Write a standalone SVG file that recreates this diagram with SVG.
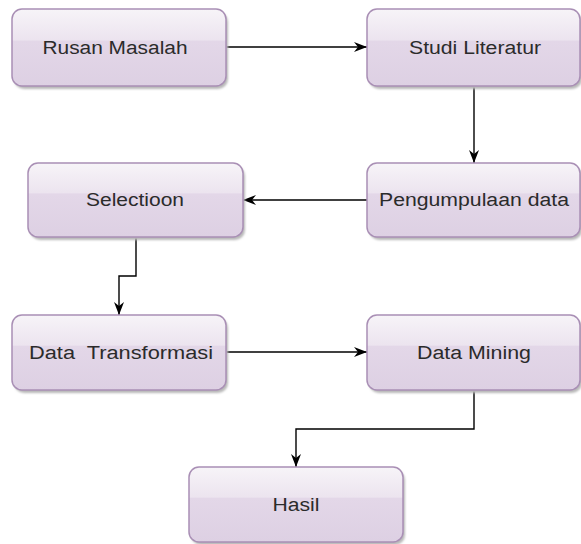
<svg xmlns="http://www.w3.org/2000/svg" width="581" height="544" viewBox="0 0 581 544">
<defs>
<linearGradient id="g" x1="0" y1="0" x2="0" y2="1">
<stop offset="0" stop-color="#f7f4f8"/>
<stop offset="0.4" stop-color="#ece4ef"/>
<stop offset="0.42" stop-color="#e3d7e8"/>
<stop offset="1" stop-color="#ddd0e3"/>
</linearGradient>
<filter id="blur" x="-10%" y="-10%" width="120%" height="130%"><feGaussianBlur stdDeviation="1.2"/></filter>
<marker id="arr" markerUnits="userSpaceOnUse" markerWidth="14" markerHeight="12" refX="13" refY="6" orient="auto">
<path d="M0,1 L13,6 L0,11 L4,6 z" fill="#000"/>
</marker>
</defs>
<style>
.sh{fill:#b8b8b8;filter:url(#blur)}
.bx{fill:url(#g);stroke:#a98fb5;stroke-width:1.5}
.t{font-family:"Liberation Sans",Arial,sans-serif;font-size:18px;fill:#2b2b2b;text-anchor:middle}
.c{fill:none;stroke:#000;stroke-width:1.4;marker-end:url(#arr)}
</style>
<g id="connectors">
<path class="c" d="M226,47 H367"/>
<path class="c" d="M474,86 V163"/>
<path class="c" d="M367,200 H243"/>
<path class="c" d="M136,237 V276 H119 V315"/>
<path class="c" d="M226,352 H367"/>
<path class="c" d="M474,390 V429 H296 V467"/>
</g>
<g id="n1"><rect class="sh" x="14" y="12" width="214" height="77" rx="10"/><rect class="bx" x="12" y="9" width="214" height="77" rx="10"/><text class="t" x="115" y="54" textLength="145" lengthAdjust="spacingAndGlyphs">Rusan Masalah</text></g>
<g id="n2"><rect class="sh" x="369" y="12" width="213" height="77" rx="10"/><rect class="bx" x="367" y="9" width="213" height="77" rx="10"/><text class="t" x="475" y="54" textLength="132" lengthAdjust="spacingAndGlyphs">Studi Literatur</text></g>
<g id="n3"><rect class="sh" x="30" y="166" width="215" height="74" rx="10"/><rect class="bx" x="28" y="163" width="215" height="74" rx="10"/><text class="t" x="135" y="206" textLength="98" lengthAdjust="spacingAndGlyphs">Selectioon</text></g>
<g id="n4"><rect class="sh" x="369" y="166" width="213" height="74" rx="10"/><rect class="bx" x="367" y="163" width="213" height="74" rx="10"/><text class="t" x="474" y="206" textLength="190" lengthAdjust="spacingAndGlyphs">Pengumpulaan data</text></g>
<g id="n5"><rect class="sh" x="14" y="318" width="214" height="75" rx="10"/><rect class="bx" x="12" y="315" width="214" height="75" rx="10"/><text class="t" x="121" y="359" textLength="184" lengthAdjust="spacingAndGlyphs" xml:space="preserve">Data  Transformasi</text></g>
<g id="n6"><rect class="sh" x="369" y="318" width="213" height="75" rx="10"/><rect class="bx" x="367" y="315" width="213" height="75" rx="10"/><text class="t" x="474" y="359" textLength="114" lengthAdjust="spacingAndGlyphs">Data Mining</text></g>
<g id="n7"><rect class="sh" x="191" y="470" width="214" height="75" rx="10"/><rect class="bx" x="189" y="467" width="214" height="75" rx="10"/><text class="t" x="296" y="511" textLength="47" lengthAdjust="spacingAndGlyphs">Hasil</text></g>
</svg>
